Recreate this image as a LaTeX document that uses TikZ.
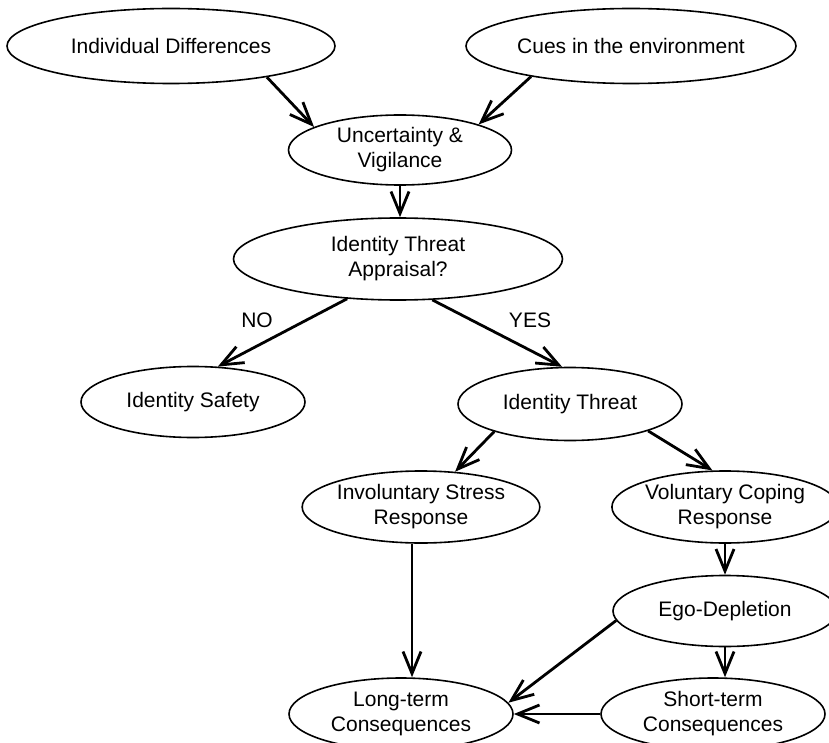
\documentclass[tikz,border=0pt]{standalone}
\usepackage{fontspec}
\setmainfont{Liberation Sans}
\usetikzlibrary{arrows.meta}
\usetikzlibrary{shapes.geometric}

\begin{document}
\begin{tikzpicture}[x=0.5pt, y=-0.5pt,
    oval/.style={ellipse, draw, line width=0.8pt, inner sep=0pt, minimum width=112pt, minimum height=36pt, align=center, font=\fontsize{10.5}{12.5}\selectfont},
    tag/.style={inner sep=0pt, font=\fontsize{10.5}{12.5}\selectfont},
    link/.style={-{Straight Barb[length=11pt, width=9pt]}, line width=1.4pt}]
  \useasboundingbox (0,0) rectangle (829,743);

  \node[oval, minimum width=164pt, minimum height=37.5pt] (ind) at (171,46) {Individual Differences};
  \node[oval, minimum width=165pt, minimum height=37.5pt] (cues) at (631,46) {Cues in the environment};
  \node[oval, minimum width=111.5pt, minimum height=35pt] (unc) at (400,150) {Uncertainty \&\\Vigilance};
  \node[oval, minimum width=164.5pt, minimum height=41pt] (appr) at (398,259) {Identity Threat\\Appraisal?};
  \node[oval, minimum height=35.5pt] (safe) at (193,402) {Identity Safety};
  \node[oval, minimum height=36.5pt] (threat) at (570,404) {Identity Threat};
  \node[oval] (invol) at (421,507) {Involuntary Stress\\Response};
  \node[oval] (volun) at (725,507) {Voluntary Coping\\Response};
  \node[oval, minimum height=35.5pt] (ego) at (725,611) {Ego-Depletion};
  \node[oval] (longt) at (401,714) {Long-term\\Consequences};
  \node[oval] (short) at (713,714) {Short-term\\Consequences};

  \node[tag] (no) at (257,320) {NO};
  \node[tag] (yes) at (530,320) {YES};

  \draw[link] (ind.-18) -- (unc.165);
  \draw[link] (cues.197) -- (unc.18);
  \draw[link] (unc.south) -- (unc.south |- appr.north);
  \draw[link] (appr.218) -- (safe.55);
  \draw[link] (appr.-50) -- (threat.102);
  \draw[link] (threat.200) -- (invol.46);
  \draw[link] (threat.-19) -- (volun.109);
  \draw[link] ([xshift=-4.5pt]invol.south) -- ([xshift=-4.5pt]invol.south |- longt.north);
  \draw[link] (volun) -- (ego);
  \draw[link] (ego.south) -- (ego.south |- short.north);
  \draw[link] (ego.185) -- (longt.6);
  \draw[link] (short) -- (longt);
\end{tikzpicture}
\end{document}
